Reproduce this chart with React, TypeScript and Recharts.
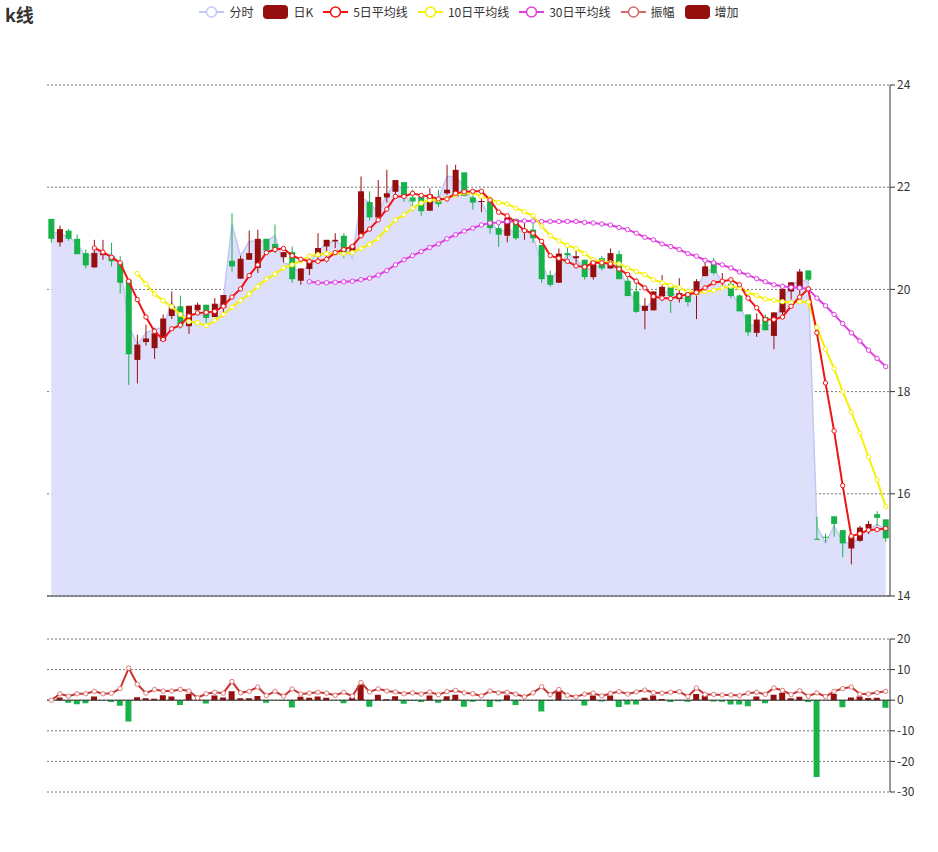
import React from "react"
import { ComposedChart, Area, Bar, Line, XAxis, YAxis, CartesianGrid, ReferenceLine, Cell } from "recharts"

// daily OHLC
const opens = [21.38, 20.92, 21.15, 20.99, 20.71, 20.43, 20.67, 20.65, 20.53, 20.19, 18.62, 18.97, 18.85, 18.99, 19.48, 19.67, 19.28, 19.59, 19.7, 19.46, 19.64, 20.56, 20.21, 20.58, 20.42, 20.99, 20.89, 20.63, 20.73, 20.17, 20.4, 20.65, 20.84, 20.94, 21.05, 20.73, 21.05, 21.71, 21.41, 21.8, 21.91, 22.1, 21.8, 21.82, 21.54, 21.79, 21.88, 21.82, 22.29, 21.8, 21.71, 21.72, 21.2, 21.05, 21.38, 21.16, 21.17, 20.87, 20.28, 20.13, 20.71, 20.61, 20.58, 20.24, 20.61, 20.41, 20.69, 20.17, 19.96, 19.58, 19.59, 19.87, 20.04, 19.81, 19.93, 19.9, 20.26, 20.52, 20.14, 20.11, 19.88, 19.51, 19.15, 19.46, 19.09, 19.55, 19.96, 20.0, 20.37, 15.12, 15.16, 15.56, 15.29, 14.93, 15.08, 15.32, 15.6, 15.5]
const closes = [20.99, 21.18, 20.99, 20.69, 20.47, 20.71, 20.71, 20.55, 20.13, 18.73, 18.92, 19.04, 19.14, 19.43, 19.67, 19.29, 19.68, 19.7, 19.44, 19.72, 19.89, 20.45, 20.6, 20.71, 20.99, 20.76, 20.8, 20.73, 20.2, 20.41, 20.57, 20.81, 20.97, 20.97, 20.71, 20.86, 21.92, 21.41, 21.81, 21.88, 22.14, 21.82, 21.72, 21.53, 21.86, 21.67, 21.95, 22.34, 21.83, 21.7, 21.73, 21.2, 21.07, 21.4, 21.0, 21.18, 21.0, 20.2, 20.09, 20.7, 20.67, 20.65, 20.24, 20.55, 20.41, 20.71, 20.2, 19.87, 19.56, 19.68, 19.96, 20.05, 19.87, 19.93, 19.75, 20.16, 20.45, 20.32, 20.16, 19.87, 19.57, 19.16, 19.41, 19.2, 19.55, 20.01, 20.14, 20.35, 20.19, 15.1, 15.14, 15.41, 15.03, 15.17, 15.34, 15.41, 15.53, 15.13]
const lows = [20.91, 20.84, 20.95, 20.69, 20.41, 20.43, 20.58, 20.45, 19.92, 18.13, 18.16, 18.9, 18.64, 18.99, 19.42, 19.23, 19.13, 19.59, 19.33, 19.46, 19.46, 20.35, 20.21, 20.58, 20.32, 20.71, 20.71, 20.53, 20.13, 20.09, 20.28, 20.54, 20.53, 20.81, 20.61, 20.73, 21.05, 21.35, 21.41, 21.7, 21.79, 21.71, 21.53, 21.44, 21.54, 21.61, 21.85, 21.82, 21.82, 21.56, 21.51, 21.09, 20.83, 20.92, 20.97, 20.97, 20.91, 20.13, 20.05, 20.13, 20.52, 20.52, 20.19, 20.19, 20.37, 20.41, 20.2, 19.87, 19.54, 19.22, 19.59, 19.77, 19.54, 19.74, 19.67, 19.42, 20.26, 20.29, 20.01, 19.83, 19.57, 19.09, 19.07, 19.2, 18.83, 19.42, 19.8, 19.8, 20.16, 15.1, 15.05, 15.16, 14.76, 14.62, 15.06, 15.21, 15.37, 15.06]
const highs = [21.38, 21.25, 21.18, 21.07, 20.78, 20.97, 20.97, 20.91, 20.65, 20.19, 19.11, 19.31, 19.25, 19.51, 19.96, 19.88, 19.68, 19.74, 19.7, 19.83, 19.89, 21.49, 20.66, 21.15, 21.17, 20.99, 21.27, 20.73, 20.84, 20.41, 20.7, 21.1, 20.97, 21.1, 21.1, 20.86, 22.21, 21.92, 22.14, 22.34, 22.14, 22.1, 21.95, 21.82, 21.98, 21.95, 22.44, 22.44, 22.29, 21.95, 21.79, 21.75, 21.3, 21.46, 21.38, 21.36, 21.36, 20.87, 20.37, 20.8, 20.82, 20.79, 20.58, 20.55, 20.65, 20.8, 20.76, 20.24, 20.22, 19.83, 19.96, 20.28, 20.04, 20.22, 19.96, 20.2, 20.58, 20.61, 20.32, 20.16, 19.9, 19.51, 19.53, 19.51, 19.55, 20.01, 20.14, 20.4, 20.37, 15.55, 15.22, 15.56, 15.29, 15.17, 15.37, 15.47, 15.66, 15.5]

// 分时
const fenshi = [21.13, 21.09, 21.02, 20.91, 20.61, 20.74, 20.71, 20.68, 20.52, 19.3, 18.92, 19.15, 19.22, 19.25, 19.74, 19.51, 19.48, 19.51, 19.48, 19.57, 19.8, 21.28, 20.65, 20.94, 20.94, 20.94, 21.05, 20.52, 20.47, 20.3, 20.5, 20.75, 20.9, 20.95, 20.85, 20.61, 21.8, 21.7, 21.5, 21.85, 22.1, 21.9, 21.6, 21.7, 21.66, 21.77, 22.21, 22.21, 22.0, 21.75, 21.7, 21.4, 21.1, 21.2, 21.1, 21.2, 21.05, 20.5, 20.15, 20.4, 20.7, 20.6, 20.4, 20.4, 20.5, 20.55, 20.45, 20.0, 19.75, 19.6, 19.8, 19.95, 19.95, 19.85, 19.8, 20.0, 20.35, 20.4, 20.15, 19.95, 19.7, 19.3, 19.3, 19.3, 19.3, 19.8, 20.05, 20.2, 20.15, 15.37, 15.03, 15.37, 15.06, 15.01, 15.17, 15.3, 15.4, 15.3]

// moving averages (null before each line starts)
const ma5 = [null, null, null, null, null, 20.81, 20.73, 20.63, 20.52, 20.16, 19.8, 19.46, 19.18, 19.02, 19.23, 19.3, 19.48, 19.54, 19.55, 19.57, 19.67, 19.85, 20.01, 20.27, 20.48, 20.72, 20.78, 20.8, 20.66, 20.59, 20.55, 20.55, 20.59, 20.72, 20.78, 20.84, 21.05, 21.18, 21.36, 21.57, 21.82, 21.82, 21.88, 21.84, 21.82, 21.77, 21.77, 21.88, 21.91, 21.92, 21.92, 21.75, 21.51, 21.44, 21.31, 21.15, 21.1, 20.94, 20.66, 20.61, 20.55, 20.46, 20.44, 20.52, 20.52, 20.5, 20.4, 20.29, 20.16, 20.03, 19.86, 19.83, 19.82, 19.87, 19.9, 19.94, 20.03, 20.13, 20.16, 20.19, 20.09, 19.83, 19.64, 19.41, 19.41, 19.46, 19.67, 19.85, 20.01, 19.15, 18.17, 17.23, 16.16, 15.17, 15.22, 15.29, 15.3, 15.32]
const ma10 = [null, null, null, null, null, null, null, null, null, null, 20.31, 20.11, 19.91, 19.78, 19.66, 19.51, 19.37, 19.35, 19.29, 19.39, 19.51, 19.65, 19.78, 19.91, 20.06, 20.2, 20.3, 20.42, 20.48, 20.56, 20.65, 20.68, 20.7, 20.71, 20.7, 20.72, 20.8, 20.88, 21.0, 21.18, 21.36, 21.46, 21.59, 21.69, 21.75, 21.75, 21.78, 21.85, 21.89, 21.89, 21.82, 21.77, 21.7, 21.67, 21.59, 21.52, 21.44, 21.24, 21.05, 20.95, 20.86, 20.8, 20.7, 20.58, 20.54, 20.52, 20.5, 20.42, 20.35, 20.29, 20.19, 20.13, 20.08, 20.03, 19.96, 19.93, 19.96, 19.98, 20.03, 20.06, 20.03, 19.94, 19.88, 19.81, 19.79, 19.76, 19.74, 19.76, 19.75, 19.26, 18.83, 18.45, 18.0, 17.6, 17.19, 16.72, 16.27, 15.75]
const ma30 = [null, null, null, null, null, null, null, null, null, null, null, null, null, null, null, null, null, null, null, null, null, null, null, null, null, null, null, null, null, null, 20.15, 20.13, 20.13, 20.14, 20.15, 20.16, 20.19, 20.22, 20.28, 20.37, 20.48, 20.58, 20.66, 20.74, 20.82, 20.89, 20.99, 21.07, 21.14, 21.2, 21.26, 21.3, 21.31, 21.33, 21.33, 21.34, 21.34, 21.33, 21.33, 21.33, 21.33, 21.33, 21.31, 21.3, 21.28, 21.26, 21.21, 21.17, 21.1, 21.02, 20.97, 20.89, 20.84, 20.78, 20.7, 20.65, 20.57, 20.52, 20.48, 20.42, 20.34, 20.28, 20.21, 20.15, 20.09, 20.06, 20.04, 20.03, 20.01, 19.83, 19.68, 19.51, 19.33, 19.15, 18.99, 18.81, 18.65, 18.49]

// lower panel: 振幅 (%) and 增加 (%)
const amplitude = [0, 2.1, 1.3, 2.1, 2.1, 2.9, 2.1, 2.3, 3.8, 10.5, 5.2, 2.3, 3.5, 3.0, 3.0, 3.5, 3.0, 0.8, 2.1, 2.6, 2.3, 6.1, 2.4, 2.9, 4.3, 1.5, 2.9, 1.3, 3.7, 2.0, 2.3, 2.6, 2.3, 1.6, 2.6, 1.3, 5.8, 2.7, 3.7, 3.0, 2.7, 2.1, 2.4, 2.0, 2.7, 1.8, 2.8, 3.2, 2.4, 2.1, 1.4, 3.0, 2.4, 2.6, 2.0, 1.1, 2.4, 4.4, 1.8, 3.5, 1.6, 1.1, 2.0, 2.3, 1.4, 2.2, 2.8, 2.0, 2.7, 3.3, 2.5, 2.3, 2.6, 2.8, 1.2, 4.0, 1.9, 1.9, 1.7, 1.7, 1.5, 2.3, 2.6, 1.9, 4.0, 3.2, 1.8, 3.1, 1.3, 2.4, 1.2, 2.9, 3.8, 4.3, 2.0, 2.0, 2.5, 2.9]
const increase = [0, 0.9, -0.8, -1.3, -1.0, 1.2, 0, -0.6, -1.8, -7.0, 1.0, 0.6, 0.5, 1.6, 1.2, -1.6, 2.0, 0.2, -1.1, 1.5, 0.9, 2.9, 0.6, 0.6, 1.4, -0.8, 0, -0.3, -2.4, 1.1, 0.8, 1.2, 0.8, 0, -1.0, 0.8, 5.0, -2.1, 1.8, 0.3, 1.3, -1.2, -0.3, -0.6, 1.5, -0.8, 1.3, 1.8, -2.1, -0.5, 0, -2.2, -0.4, 1.6, -1.6, 0, 0, -3.7, -0.3, 2.8, 0, 0, -1.7, 1.5, -0.4, 1.5, -2.2, -1.4, -1.4, 0.8, 1.5, 0.4, -0.6, 0.1, -0.5, 2.0, 1.5, -0.4, -0.5, -1.4, -1.4, -2.0, 1.2, -1.0, 1.8, 2.4, 0.6, 1.1, -0.6, -25.1, 0, 2.0, -2.3, 0.9, 1.2, 0.7, 0.8, -2.5]

const priceTicks = [14, 16, 18, 20, 22, 24]
const pctTicks = [-30, -20, -10, 0, 10, 20]

const UP = "#960f0f"
const DOWN = "#17b24a"
const FS_LINE = "#c3c7f4"
const FS_FILL = "#dee0fb"
const MA5_C = "#f01414"
const MA10_C = "#f5f000"
const MA30_C = "#e03ee0"
const AMP_C = "#c83434"

const data = opens.map((o, i) => ({
  day: i + 1,
  open: o,
  close: closes[i],
  low: lows[i],
  high: highs[i],
  range: [lows[i], highs[i]],
  fs: fenshi[i],
  ma5: ma5[i],
  ma10: ma10[i],
  ma30: ma30[i],
  amp: amplitude[i],
  inc: increase[i],
}))

const Candle = (props: any) => {
  let { x, y, width, height, payload } = props
  if (height < 0) {
    y = y + height
    height = -height
  }
  const { open, close, high, low } = payload
  const cx = x + width / 2
  const k = high === low ? 0 : height / (high - low)
  const yOf = (v: number) => y + (high - v) * k
  const color = close >= open ? UP : DOWN
  const top = yOf(Math.max(open, close))
  const bot = yOf(Math.min(open, close))
  return (
    <g>
      <line x1={cx} x2={cx} y1={y} y2={y + height} stroke={color} strokeWidth={1} />
      <rect x={cx - 3} y={top} width={6} height={Math.max(bot - top, 1)} fill={color} />
    </g>
  )
}

const dot = (c: string) => ({ r: 2.2, fill: "#fff", stroke: c, strokeWidth: 1 })

const LineIcon = ({ color }: { color: string }) => (
  <svg width={25} height={14}>
    <line x1={0} x2={25} y1={7} y2={7} stroke={color} strokeWidth={2} />
    <circle cx={12.5} cy={7} r={5} fill="#fff" stroke={color} strokeWidth={1.5} />
  </svg>
)

const RectIcon = ({ color }: { color: string }) => (
  <svg width={25} height={14}>
    <rect x={0} y={0} width={25} height={14} rx={4} fill={color} />
  </svg>
)

const legendItems = [
  { name: "分时", icon: <LineIcon color={FS_LINE} /> },
  { name: "日K", icon: <RectIcon color={UP} /> },
  { name: "5日平均线", icon: <LineIcon color={MA5_C} /> },
  { name: "10日平均线", icon: <LineIcon color={MA10_C} /> },
  { name: "30日平均线", icon: <LineIcon color={MA30_C} /> },
  { name: "振幅", icon: <LineIcon color="#d46a6a" /> },
  { name: "增加", icon: <RectIcon color={UP} /> },
]

const axisStyle = { fill: "#333", fontSize: 12 }

export default function App() {
  return (
    <div
      style={{
        position: "absolute",
        left: 0,
        top: 0,
        width: 938,
        height: 852,
        background: "#fff",
        fontFamily: '"Microsoft YaHei", "Noto Sans CJK SC", "Noto Sans", sans-serif',
      }}
    >
      <div style={{ position: "absolute", left: 5, top: 1, fontSize: 18, fontWeight: "bold", color: "#333" }}>k线</div>
      <div
        style={{
          position: "absolute",
          left: 0,
          top: 5,
          width: 938,
          display: "flex",
          justifyContent: "center",
          gap: 10,
          fontSize: 12,
          color: "#333",
          lineHeight: "14px",
        }}
      >
        {legendItems.map((it) => (
          <div key={it.name} style={{ display: "flex", alignItems: "center", gap: 5 }}>
            {it.icon}
            <span>{it.name}</span>
          </div>
        ))}
      </div>

      <div style={{ position: "absolute", left: 0, top: 0 }}>
        <ComposedChart width={938} height={610} data={data} margin={{ top: 85, right: 0, bottom: 14, left: 47 }}>
          <CartesianGrid vertical={false} stroke="#777" strokeDasharray="2 2" />
          <XAxis dataKey="day" hide />
          <YAxis
            orientation="right"
            domain={[14, 24]}
            ticks={priceTicks}
            width={48}
            tickSize={5}
            axisLine={{ stroke: "#333" }}
            tickLine={{ stroke: "#333" }}
            tick={axisStyle}
            allowDataOverflow
          />
          <Area
            type="linear"
            dataKey="fs"
            stroke={FS_LINE}
            strokeWidth={1.5}
            fill={FS_FILL}
            fillOpacity={1}
            dot={false}
            isAnimationActive={false}
          />
          <ReferenceLine y={14} stroke="#333" />
          <Bar dataKey="range" shape={Candle} isAnimationActive={false} />
          <Line type="linear" dataKey="ma30" stroke={MA30_C} strokeWidth={2} dot={dot(MA30_C)} isAnimationActive={false} />
          <Line type="linear" dataKey="ma10" stroke={MA10_C} strokeWidth={2} dot={dot(MA10_C)} isAnimationActive={false} />
          <Line type="linear" dataKey="ma5" stroke={MA5_C} strokeWidth={2} dot={dot(MA5_C)} isAnimationActive={false} />
        </ComposedChart>
      </div>

      <div style={{ position: "absolute", left: 0, top: 610 }}>
        <ComposedChart width={938} height={200} data={data} margin={{ top: 29, right: 0, bottom: 18, left: 47 }}>
          <CartesianGrid vertical={false} stroke="#777" strokeDasharray="2 2" />
          <XAxis dataKey="day" hide />
          <YAxis
            orientation="right"
            domain={[-30, 20]}
            ticks={pctTicks}
            width={48}
            tickSize={5}
            axisLine={{ stroke: "#333" }}
            tickLine={{ stroke: "#333" }}
            tick={axisStyle}
            allowDataOverflow
          />
          <Bar dataKey="inc" barSize={6} isAnimationActive={false}>
            {data.map((d, i) => (
              <Cell key={i} fill={d.inc >= 0 ? UP : DOWN} />
            ))}
          </Bar>
          <ReferenceLine y={0} stroke="#333" />
          <Line type="linear" dataKey="amp" stroke={AMP_C} strokeWidth={2} dot={dot("#e07a7a")} isAnimationActive={false} />
        </ComposedChart>
      </div>
    </div>
  )
}
